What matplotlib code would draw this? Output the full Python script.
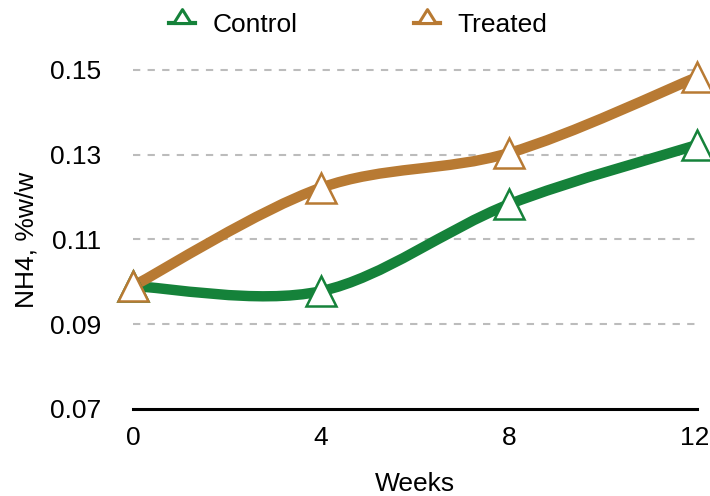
import matplotlib.pyplot as plt
import matplotlib.transforms as mtransforms
from matplotlib.path import Path
from matplotlib.patches import PathPatch
from matplotlib.lines import Line2D

# datos
weeks = [0, 4, 8, 12]
control = [0.0990, 0.0978, 0.1183, 0.1323]
treated = [0.0990, 0.1222, 0.1304, 0.1483]
yticks = [0.07, 0.09, 0.11, 0.13, 0.15]

GREEN = '#15823a'
BROWN = '#b87a33'
FS = 19

plt.rcParams['font.family'] = ['Liberation Sans', 'DejaVu Sans']


def smooth_path(x, y):
    # curva suave tipo catmull-rom armada con beziers cubicos
    pts = list(zip(x, y))
    verts = [pts[0]]
    codes = [Path.MOVETO]
    n = len(pts)
    for i in range(n - 1):
        p0 = pts[i - 1] if i > 0 else pts[i]
        p1 = pts[i]
        p2 = pts[i + 1]
        p3 = pts[i + 2] if i + 2 < n else pts[i + 1]
        c1 = (p1[0] + (p2[0] - p0[0]) / 6, p1[1] + (p2[1] - p0[1]) / 6)
        c2 = (p2[0] - (p3[0] - p1[0]) / 6, p2[1] - (p3[1] - p1[1]) / 6)
        verts += [c1, c2, p2]
        codes += [Path.CURVE4] * 3
    return Path(verts, codes)


fig = plt.figure(figsize=(7.1, 4.96), dpi=100)
ax = fig.add_axes([133 / 710, 87 / 496, 564 / 710, 347.5 / 496])

ax.set_xlim(0, 12)
ax.set_ylim(0.07, 0.152)

for yv in yticks[1:]:
    ax.axhline(yv, color='#bcbcbc', lw=1.5, ls=(0, (3.5, 3.5)), zorder=0)

for vals, col in [(control, GREEN), (treated, BROWN)]:
    ax.add_patch(PathPatch(smooth_path(weeks, vals), facecolor='none',
                           edgecolor=col, lw=7.5, capstyle='round',
                           zorder=2, clip_on=False))
    ax.plot(weeks, vals, ls='none', marker='^', ms=21, mfc='white',
            mec=col, mew=1.8, zorder=3, clip_on=False)

for s in ['top', 'right', 'left']:
    ax.spines[s].set_visible(False)
ax.spines['bottom'].set_linewidth(2.2)
ax.spines['bottom'].set_color('black')

ax.set_xticks(weeks)
ax.set_yticks(yticks)
ax.set_yticklabels(['%.2f' % v for v in yticks])
ax.tick_params(axis='both', length=0, labelsize=FS)
ax.tick_params(axis='y', pad=23)
ax.tick_params(axis='x', pad=12)

# el "12" queda pegado al borde, lo corro un poco a la izquierda
last = ax.get_xticklabels()[-1]
last.set_transform(last.get_transform() +
                   mtransforms.ScaledTranslation(-2 / 100, 0, fig.dpi_scale_trans))

ax.set_xlabel('Weeks', fontsize=FS, labelpad=16)
ax.set_ylabel('NH4, %w/w', fontsize=FS)
ax.yaxis.set_label_coords(-0.168, 0.486)

# triangulo con la base sobre la linea, como en la leyenda original
tri = Path([(0, 1.6), (-1, 0), (1, 0), (0, 1.6)],
           [Path.MOVETO, Path.LINETO, Path.LINETO, Path.CLOSEPOLY])
handles = [
    Line2D([], [], color=GREEN, lw=3, marker=tri, ms=20, mfc='white', mec=GREEN, mew=2.2),
    Line2D([], [], color=BROWN, lw=3, marker=tri, ms=20, mfc='white', mec=BROWN, mew=2.2),
]
fig.legend(handles, ['Control', 'Treated'], loc='center', bbox_to_anchor=(358 / 710, 1 - 25 / 496),
           ncol=2, frameon=False, fontsize=FS, handlelength=1.0, columnspacing=4.4,
           handletextpad=0.65, borderpad=0, borderaxespad=0)

fig.savefig('out.png', dpi=100)
